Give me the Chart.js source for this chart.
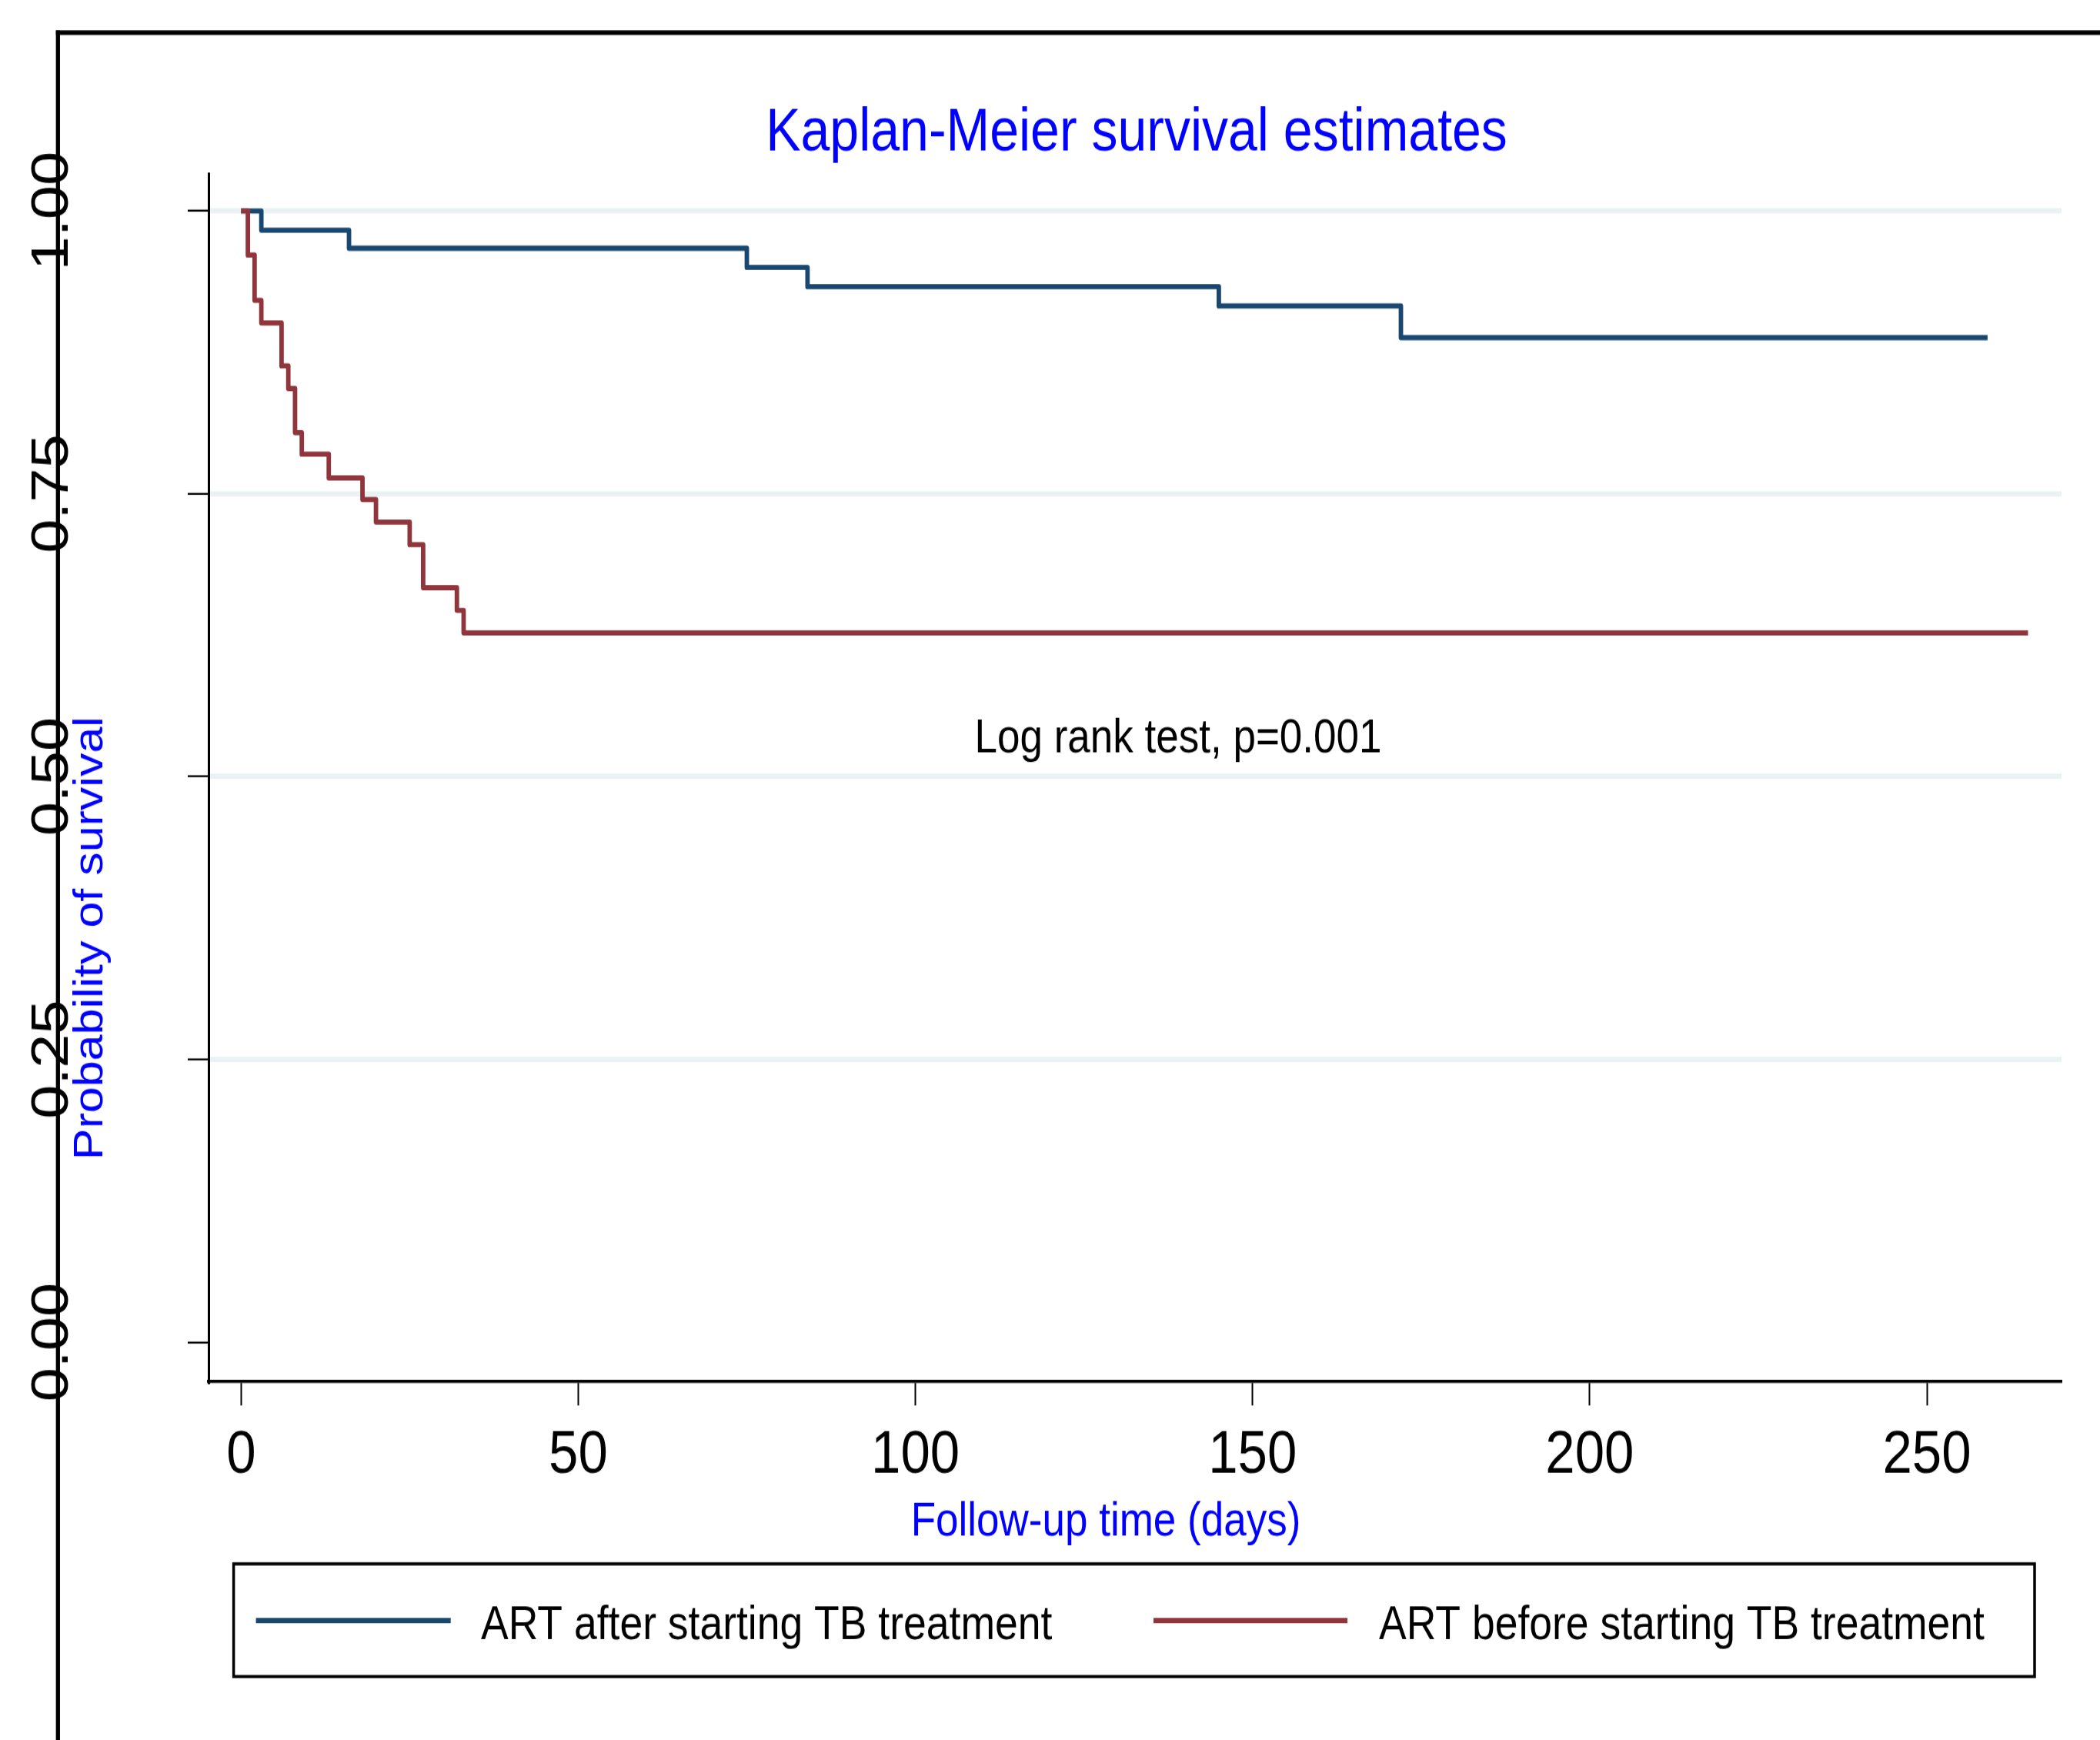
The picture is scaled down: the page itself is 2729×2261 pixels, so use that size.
<!DOCTYPE html>
<html><head><meta charset="utf-8">
<script src="https://cdn.jsdelivr.net/npm/chart.js@4.4.1/dist/chart.umd.min.js"></script>
<style>
html,body{margin:0;padding:0;background:#fff;width:2729px;height:2261px;overflow:hidden;}
canvas{display:block;}
</style></head><body>
<canvas id="c" width="2729" height="1966" style="width:2729px;height:2261px"></canvas>
<script>
// ---- data ----
const afterTimes = [0, 3, 16, 75, 84, 145, 172, 259];
const afterSurv  = [1, 0.983, 0.967, 0.950, 0.933, 0.916, 0.888, 0.888];
const beforeTimes = [0, 1, 2, 3, 6, 7, 8, 9, 13, 18, 20, 25, 27, 32, 33, 265];
const beforeSurv  = [1, 0.961, 0.921, 0.901, 0.863, 0.843, 0.804, 0.785, 0.764, 0.745, 0.725, 0.705, 0.667, 0.647, 0.627, 0.627];
const seriesLabels = ['ART after starting TB treatment', 'ART before starting TB treatment'];
const xTickValues = [0, 50, 100, 150, 200, 250];
const xTickLabels = ['0', '50', '100', '150', '200', '250'];
const yTickValues = [0, 0.25, 0.5, 0.75, 1];
const yTickLabels = ['0.00', '0.25', '0.50', '0.75', '1.00'];
const titleText = 'Kaplan-Meier survival estimates';
const xTitle = 'Follow-up time (days)';
const yTitle = 'Probability of survival';
const noteText = 'Log rank test, p=0.001';

const BLUE = '#1a476f', RED = '#90353b', TXTBLUE = '#0000ff';
const FONT = '"Liberation Sans", Arial, Helvetica, sans-serif';

const decor = {
  id: 'decor',
  beforeDraw(chart) {
    const ctx = chart.ctx;
    ctx.save();
    ctx.fillStyle = '#fff';
    ctx.fillRect(0, 0, chart.width, chart.height);
    ctx.strokeStyle = '#000';
    ctx.lineCap = 'butt';
    ctx.lineWidth = 5.2;
    ctx.beginPath(); ctx.moveTo(72.7, 36.8); ctx.lineTo(chart.width + 5, 36.8); ctx.stroke();
    ctx.lineWidth = 5.3;
    ctx.beginPath(); ctx.moveTo(75.3, 34.2); ctx.lineTo(75.3, chart.height + 5); ctx.stroke();
    ctx.restore();
  },
  afterDraw(chart) {
    const ctx = chart.ctx;
    const xs = chart.scales.x, ys = chart.scales.y;
    ctx.save();
    // title
    ctx.fillStyle = TXTBLUE;
    ctx.font = '68px ' + FONT;
    ctx.textAlign = 'center'; ctx.textBaseline = 'alphabetic';
    ctx.fillText(titleText, 1477, 170.4);
    // note
    ctx.fillStyle = '#000';
    ctx.font = '53px ' + FONT;
    ctx.fillText(noteText, 1531, 850.4);
    // x tick labels
    ctx.font = '69px ' + FONT;
    xTickValues.forEach((v, i) => {
      ctx.fillText(xTickLabels[i], xs.getPixelForValue(v), 1663.5);
    });
    // y tick labels (rotated)
    yTickValues.forEach((v, i) => {
      ctx.save();
      ctx.translate(88, ys.getPixelForValue(v));
      ctx.rotate(-Math.PI / 2);
      ctx.textAlign = 'center';
      ctx.fillText(yTickLabels[i], 0, 0);
      ctx.restore();
    });
    // axis titles
    ctx.fillStyle = TXTBLUE;
    ctx.font = '53px ' + FONT;
    ctx.fillText(xTitle, 1437, 1734.8);
    ctx.save();
    ctx.translate(133, 1060);
    ctx.rotate(-Math.PI / 2);
    ctx.fillText(yTitle, 0, 0);
    ctx.restore();
    // legend
    ctx.strokeStyle = '#000';
    ctx.lineWidth = 3.5;
    ctx.strokeRect(303.6, 1767, 2644 - 303.6, 1894.3 - 1767);
    const ds = chart.data.datasets;
    const legendItems = [
      {x0: 332.6, x1: 585.7, tx: 625, ds: ds[0]},
      {x0: 1499, x1: 1751, tx: 1792, ds: ds[1]}
    ];
    legendItems.forEach(it => {
      ctx.strokeStyle = it.ds.borderColor;
      ctx.lineWidth = 6;
      ctx.lineCap = 'butt';
      ctx.beginPath(); ctx.moveTo(it.x0, 1830.9); ctx.lineTo(it.x1, 1830.9); ctx.stroke();
      ctx.fillStyle = '#000';
      ctx.font = '53.5px ' + FONT;
      ctx.textAlign = 'left';
      ctx.fillText(it.ds.label, it.tx, 1852.2);
    });
    ctx.restore();
  }
};

new Chart(document.getElementById('c').getContext('2d'), {
  type: 'line',
  data: {
    datasets: [
      {
        label: seriesLabels[0],
        data: afterTimes.map((t, i) => ({x: t, y: afterSurv[i]})),
        borderColor: BLUE, borderWidth: 5.8, stepped: 'before',
        pointRadius: 0, fill: false, order: 1,
        borderJoinStyle: 'round', borderCapStyle: 'butt'
      },
      {
        label: seriesLabels[1],
        data: beforeTimes.map((t, i) => ({x: t, y: beforeSurv[i]})),
        borderColor: RED, borderWidth: 5.8, stepped: 'before',
        pointRadius: 0, fill: false, order: 0,
        borderJoinStyle: 'round', borderCapStyle: 'butt'
      }
    ]
  },
  options: {
    responsive: false,
    animation: false,
    devicePixelRatio: 1,
    layout: {padding: {left: 0, top: 196.5, right: 50, bottom: 0}},
    plugins: {legend: {display: false}, title: {display: false}, tooltip: {enabled: false}},
    scales: {
      x: {
        type: 'linear', min: -4.83, max: 269.97,
        afterBuildTicks: s => { s.ticks = xTickValues.map(v => ({value: v})); },
        afterFit: s => { s.height = 405; },
        ticks: {display: false},
        grid: {display: true, drawOnChartArea: false, drawTicks: true, tickLength: 27, tickWidth: 2, tickColor: '#000'},
        border: {display: true, color: '#000', width: 3.5}
      },
      y: {
        type: 'linear', min: -0.0347, max: 1.0327,
        afterBuildTicks: s => { s.ticks = yTickValues.map(v => ({value: v})); },
        afterFit: s => { s.width = 271; },
        ticks: {display: false},
        grid: {
          display: true, drawOnChartArea: true, drawTicks: true,
          color: c => (c.tick && c.tick.value === 0) ? 'rgba(0,0,0,0)' : '#eaf2f3',
          lineWidth: 6, tickLength: 27, tickWidth: 2.2, tickColor: '#000'
        },
        border: {display: true, color: '#000', width: 3}
      }
    }
  },
  plugins: [decor]
});
</script>
</body></html>
